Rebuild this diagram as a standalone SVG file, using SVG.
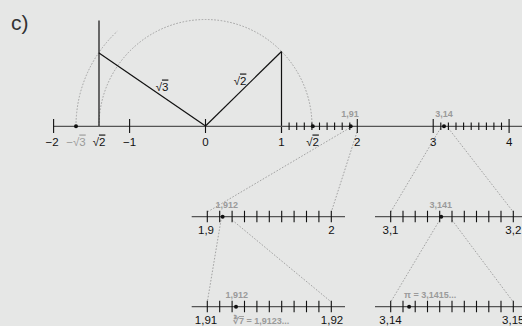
<svg xmlns="http://www.w3.org/2000/svg" width="522" height="326" viewBox="0 0 522 326">
<style>
.bg{fill:#e6e7e6}
.ax{stroke:#555;stroke-width:1.3;fill:none}
.tk{stroke:#111;stroke-width:1.1}
.ln{stroke:#111;stroke-width:1.2;fill:none}
.dt{stroke:#9a9a9a;stroke-width:0.9;stroke-dasharray:1.6 1.6;fill:none}
.dot{fill:#111}
.lb{font-family:"Liberation Sans",Arial,sans-serif;font-size:11.5px;fill:#111;text-anchor:middle}
.gl{font-family:"Liberation Sans",Arial,sans-serif;font-size:9px;font-weight:bold;fill:#9a9a9a;text-anchor:middle}
.gs{font-family:"Liberation Sans",Arial,sans-serif;font-size:11.5px;fill:#9a9a9a;text-anchor:middle}
.ti{font-family:"Liberation Sans",Arial,sans-serif;font-size:21px;fill:#333}
.ov{text-decoration:overline}
</style>
<rect class="bg" x="0" y="0" width="522" height="326"/>
<text class="ti" x="11" y="30">c)</text>

<g id="connectors">
<path class="dt" d="M76,126 A129.5,129.5 0 0 1 117.2,31.3"/>
<path class="dt" d="M99,126 A106.5,106.5 0 0 1 312,126"/>
<line class="dt" x1="349.5" y1="128" x2="207.3" y2="212"/>
<line class="dt" x1="357" y1="132" x2="331.3" y2="212"/>
<line class="dt" x1="221" y1="220" x2="207.3" y2="302"/>
<line class="dt" x1="232.1" y1="220" x2="331.3" y2="302"/>
<line class="dt" x1="440.6" y1="128" x2="390.7" y2="212"/>
<line class="dt" x1="448.2" y1="128" x2="513.3" y2="212"/>
<line class="dt" x1="439.7" y1="220" x2="390.7" y2="302"/>
<line class="dt" x1="452" y1="220" x2="513.3" y2="302"/>
</g>

<g id="construction">
<line class="ln" x1="99" y1="20.5" x2="99" y2="126"/>
<line class="ln" x1="99" y1="53" x2="205.5" y2="126"/>
<line class="ln" x1="205.5" y1="126" x2="281.5" y2="51.5"/>
<line class="ln" x1="281.5" y1="51.5" x2="281.5" y2="133"/>
<text class="lb" x="162" y="90.5">√<tspan class="ov">3</tspan></text>
<text class="lb" x="240" y="84.5">√<tspan class="ov">2</tspan></text>
</g>

<g id="main-axis">
<line class="ax" x1="53" y1="126.3" x2="522" y2="126.3"/>
<g class="tk">
<line x1="53.6" y1="119" x2="53.6" y2="133"/>
<line x1="129.6" y1="119" x2="129.6" y2="133"/>
<line x1="205.5" y1="119" x2="205.5" y2="133"/>
<line x1="357.3" y1="119" x2="357.3" y2="133"/>
<line x1="433.2" y1="119" x2="433.2" y2="133"/>
<line x1="509.1" y1="119" x2="509.1" y2="133"/>
<line x1="289.1" y1="122.5" x2="289.1" y2="130"/>
<line x1="296.7" y1="122.5" x2="296.7" y2="130"/>
<line x1="304.3" y1="122.5" x2="304.3" y2="130"/>
<line x1="311.9" y1="122.5" x2="311.9" y2="130"/>
<line x1="319.5" y1="122.5" x2="319.5" y2="130"/>
<line x1="327.1" y1="122.5" x2="327.1" y2="130"/>
<line x1="334.6" y1="122.5" x2="334.6" y2="130"/>
<line x1="342.2" y1="122.5" x2="342.2" y2="130"/>
<line x1="349.8" y1="122.5" x2="349.8" y2="130"/>
<line x1="440.8" y1="122.5" x2="440.8" y2="130"/>
<line x1="448.4" y1="122.5" x2="448.4" y2="130"/>
<line x1="456.0" y1="122.5" x2="456.0" y2="130"/>
<line x1="463.6" y1="122.5" x2="463.6" y2="130"/>
<line x1="471.2" y1="122.5" x2="471.2" y2="130"/>
<line x1="478.8" y1="122.5" x2="478.8" y2="130"/>
<line x1="486.4" y1="122.5" x2="486.4" y2="130"/>
<line x1="493.9" y1="122.5" x2="493.9" y2="130"/>
<line x1="501.5" y1="122.5" x2="501.5" y2="130"/>
</g>
<circle class="dot" cx="76" cy="126.3" r="2"/>
<circle class="dot" cx="312.8" cy="126.3" r="2"/>
<circle class="dot" cx="350.7" cy="126.3" r="2"/>
<circle class="dot" cx="444" cy="126.3" r="2"/>
<text class="lb" x="52" y="145.5">−2</text>
<text class="gs" x="76" y="145.5">−√<tspan class="ov">3</tspan></text>
<text class="lb" x="99" y="145.5">√<tspan class="ov">2</tspan></text>
<text class="lb" x="129.6" y="145.5">−1</text>
<text class="lb" x="205.5" y="145.5">0</text>
<text class="lb" x="281.5" y="145.5">1</text>
<text class="lb" x="312.5" y="145.5">√<tspan class="ov">2</tspan></text>
<text class="lb" x="357.3" y="145.5">2</text>
<text class="lb" x="433.2" y="145.5">3</text>
<text class="lb" x="509.1" y="145.5">4</text>
<text class="gl" x="350" y="117.3">1,91</text>
<text class="gl" x="444" y="117.3">3,14</text>
</g>

<g id="axis-1-9">
<line class="ax" x1="191.7" y1="216.7" x2="345" y2="216.7"/>
<path class="tk" d="M207.3,210.7V222.2M219.7,210.7V222.2M232.1,210.7V222.2M244.5,210.7V222.2M256.9,210.7V222.2M269.3,210.7V222.2M281.7,210.7V222.2M294.1,210.7V222.2M306.5,210.7V222.2M318.9,210.7V222.2M331.3,210.7V222.2"/>
<circle class="dot" cx="222.6" cy="216.7" r="2"/>
<text class="gl" x="226.7" y="208.3">1,912</text>
<text class="lb" x="206" y="234">1,9</text>
<text class="lb" x="331.5" y="234">2</text>
</g>

<g id="axis-1-91">
<line class="ax" x1="191.7" y1="306.7" x2="345" y2="306.7"/>
<path class="tk" d="M207.3,300.7V312.2M219.7,300.7V312.2M232.1,300.7V312.2M244.5,300.7V312.2M256.9,300.7V312.2M269.3,300.7V312.2M281.7,300.7V312.2M294.1,300.7V312.2M306.5,300.7V312.2M318.9,300.7V312.2M331.3,300.7V312.2"/>
<circle class="dot" cx="236" cy="306.7" r="2"/>
<text class="gl" x="236.7" y="297.5">1,912</text>
<text class="lb" x="206" y="324">1,91</text>
<text class="gs" x="233" y="324" style="text-anchor:start;font-size:9px;font-weight:bold">∛<tspan class="ov">7</tspan> = 1,9123...</text>
<text class="lb" x="332" y="324">1,92</text>
</g>

<g id="axis-3-1">
<line class="ax" x1="375" y1="216.7" x2="522" y2="216.7"/>
<path class="tk" d="M390.7,210.7V222.2M403,210.7V222.2M415.2,210.7V222.2M427.5,210.7V222.2M439.7,210.7V222.2M452,210.7V222.2M464.3,210.7V222.2M476.5,210.7V222.2M488.8,210.7V222.2M501,210.7V222.2M513.3,210.7V222.2"/>
<circle class="dot" cx="441.2" cy="216.7" r="2"/>
<text class="gl" x="440.7" y="208.3">3,141</text>
<text class="lb" x="390.5" y="234">3,1</text>
<text class="lb" x="513.3" y="234">3,2</text>
</g>

<g id="axis-3-14">
<line class="ax" x1="375" y1="306.7" x2="522" y2="306.7"/>
<path class="tk" d="M390.7,300.7V312.2M403,300.7V312.2M415.2,300.7V312.2M427.5,300.7V312.2M439.7,300.7V312.2M452,300.7V312.2M464.3,300.7V312.2M476.5,300.7V312.2M488.8,300.7V312.2M501,300.7V312.2M513.3,300.7V312.2"/>
<circle class="dot" cx="409.1" cy="306.7" r="2"/>
<text class="gl" x="404" y="297.5" style="text-anchor:start">π = 3,1415...</text>
<text class="lb" x="390.5" y="324">3,14</text>
<text class="lb" x="513.3" y="324">3,15</text>
</g>
</svg>
